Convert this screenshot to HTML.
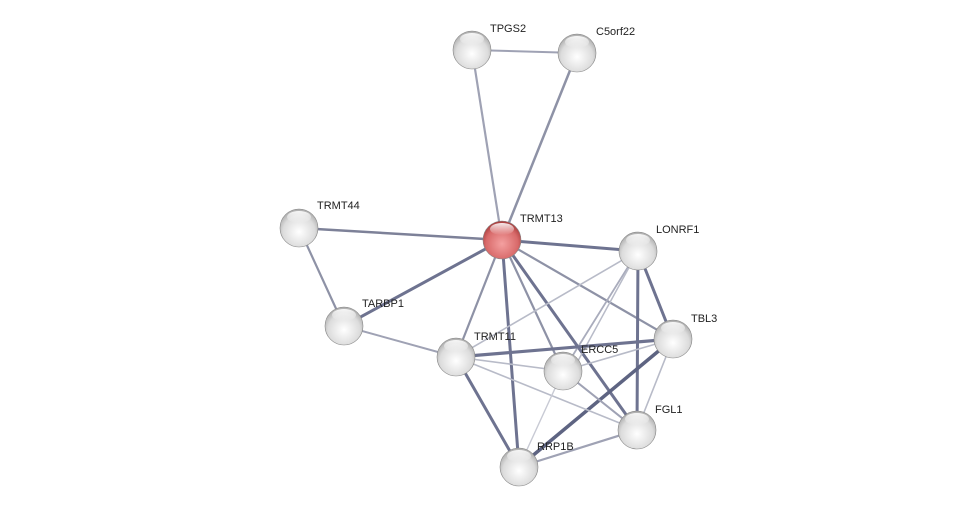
<!DOCTYPE html>
<html><head><meta charset="utf-8"><style>
html,body{margin:0;padding:0;background:#fff;}
svg text{font-family:"Liberation Sans",sans-serif;font-size:11px;fill:#222;}
</style></head><body>
<svg width="976" height="513" viewBox="0 0 976 513" xmlns="http://www.w3.org/2000/svg">
<defs>
<radialGradient id="g" cx="0.5" cy="0.6" r="0.6">
<stop offset="0" stop-color="#ffffff"/><stop offset="0.7" stop-color="#dcdcdc"/><stop offset="1" stop-color="#a8a8a8"/>
</radialGradient>
<radialGradient id="r" cx="0.5" cy="0.6" r="0.6">
<stop offset="0" stop-color="#f4a0a0"/><stop offset="0.7" stop-color="#d86a6a"/><stop offset="1" stop-color="#a53a3a"/>
</radialGradient>
<linearGradient id="hl" x1="0" y1="0" x2="0" y2="1">
<stop offset="0" stop-color="#fff" stop-opacity="0.9"/><stop offset="1" stop-color="#fff" stop-opacity="0"/>
</linearGradient>
</defs>
<g stroke-linecap="round">
<line x1="472" y1="50" x2="577" y2="53" stroke="#9fa2b4" stroke-width="2"/>
<line x1="472" y1="50" x2="502" y2="240" stroke="#9fa2b4" stroke-width="2.2"/>
<line x1="577" y1="53" x2="502" y2="240" stroke="#8e92a6" stroke-width="2.5"/>
<line x1="299" y1="228" x2="502" y2="240" stroke="#7d8198" stroke-width="2.5"/>
<line x1="299" y1="228" x2="344" y2="326" stroke="#8e92a6" stroke-width="2.2"/>
<line x1="344" y1="326" x2="502" y2="240" stroke="#6e7390" stroke-width="3"/>
<line x1="344" y1="326" x2="456" y2="357" stroke="#9fa2b4" stroke-width="2"/>
<line x1="502" y1="240" x2="638" y2="251" stroke="#6e7390" stroke-width="3"/>
<line x1="502" y1="240" x2="673" y2="339" stroke="#8e92a6" stroke-width="2.2"/>
<line x1="502" y1="240" x2="456" y2="357" stroke="#8e92a6" stroke-width="2.2"/>
<line x1="502" y1="240" x2="563" y2="371" stroke="#8e92a6" stroke-width="2.2"/>
<line x1="502" y1="240" x2="637" y2="430" stroke="#6e7390" stroke-width="3"/>
<line x1="502" y1="240" x2="519" y2="467" stroke="#6e7390" stroke-width="3"/>
<line x1="638" y1="251" x2="456" y2="357" stroke="#b8bbc8" stroke-width="1.6"/>
<line x1="638" y1="251" x2="563" y2="371" stroke="#a9acbc" stroke-width="1.8"/>
<line x1="638" y1="251" x2="573" y2="370" stroke="#b8bbc8" stroke-width="1.5"/>
<line x1="638" y1="251" x2="673" y2="339" stroke="#6e7390" stroke-width="3"/>
<line x1="638" y1="251" x2="637" y2="430" stroke="#6e7390" stroke-width="3"/>
<line x1="673" y1="339" x2="456" y2="357" stroke="#6e7390" stroke-width="3.2"/>
<line x1="673" y1="339" x2="563" y2="371" stroke="#b8bbc8" stroke-width="1.6"/>
<line x1="673" y1="339" x2="519" y2="467" stroke="#5e6482" stroke-width="3.5"/>
<line x1="673" y1="339" x2="637" y2="430" stroke="#b8bbc8" stroke-width="1.6"/>
<line x1="456" y1="357" x2="563" y2="371" stroke="#b8bbc8" stroke-width="1.6"/>
<line x1="456" y1="357" x2="637" y2="430" stroke="#b8bbc8" stroke-width="1.6"/>
<line x1="456" y1="357" x2="519" y2="467" stroke="#6e7390" stroke-width="3"/>
<line x1="563" y1="371" x2="637" y2="430" stroke="#9fa2b4" stroke-width="2"/>
<line x1="563" y1="371" x2="519" y2="467" stroke="#c8cad4" stroke-width="1.4"/>
<line x1="637" y1="430" x2="519" y2="467" stroke="#9fa2b4" stroke-width="2.2"/>
</g>
<g stroke="#888" stroke-width="0.6">
<circle cx="472" cy="50" r="19" fill="url(#g)"/>
<circle cx="577" cy="53" r="19" fill="url(#g)"/>
<circle cx="299" cy="228" r="19" fill="url(#g)"/>
<circle cx="502" cy="240" r="19" fill="url(#r)"/>
<circle cx="638" cy="251" r="19" fill="url(#g)"/>
<circle cx="344" cy="326" r="19" fill="url(#g)"/>
<circle cx="673" cy="339" r="19" fill="url(#g)"/>
<circle cx="456" cy="357" r="19" fill="url(#g)"/>
<circle cx="563" cy="371" r="19" fill="url(#g)"/>
<circle cx="637" cy="430" r="19" fill="url(#g)"/>
<circle cx="519" cy="467" r="19" fill="url(#g)"/>
</g>
<g fill="url(#hl)">
<ellipse cx="472" cy="39" rx="12" ry="6"/><ellipse cx="577" cy="42" rx="12" ry="6"/>
<ellipse cx="299" cy="217" rx="12" ry="6"/><ellipse cx="502" cy="229" rx="12" ry="6"/>
<ellipse cx="638" cy="240" rx="12" ry="6"/><ellipse cx="344" cy="315" rx="12" ry="6"/>
<ellipse cx="673" cy="328" rx="12" ry="6"/><ellipse cx="456" cy="346" rx="12" ry="6"/>
<ellipse cx="563" cy="360" rx="12" ry="6"/><ellipse cx="637" cy="419" rx="12" ry="6"/>
<ellipse cx="519" cy="456" rx="12" ry="6"/>
</g>
<text x="490" y="32">TPGS2</text>
<text x="596" y="35">C5orf22</text>
<text x="317" y="209">TRMT44</text>
<text x="520" y="222">TRMT13</text>
<text x="656" y="233">LONRF1</text>
<text x="362" y="307">TARBP1</text>
<text x="691" y="322">TBL3</text>
<text x="474" y="340">TRMT11</text>
<text x="581" y="353">ERCC5</text>
<text x="655" y="413">FGL1</text>
<text x="537" y="450">RRP1B</text>
</svg>
</body></html>
